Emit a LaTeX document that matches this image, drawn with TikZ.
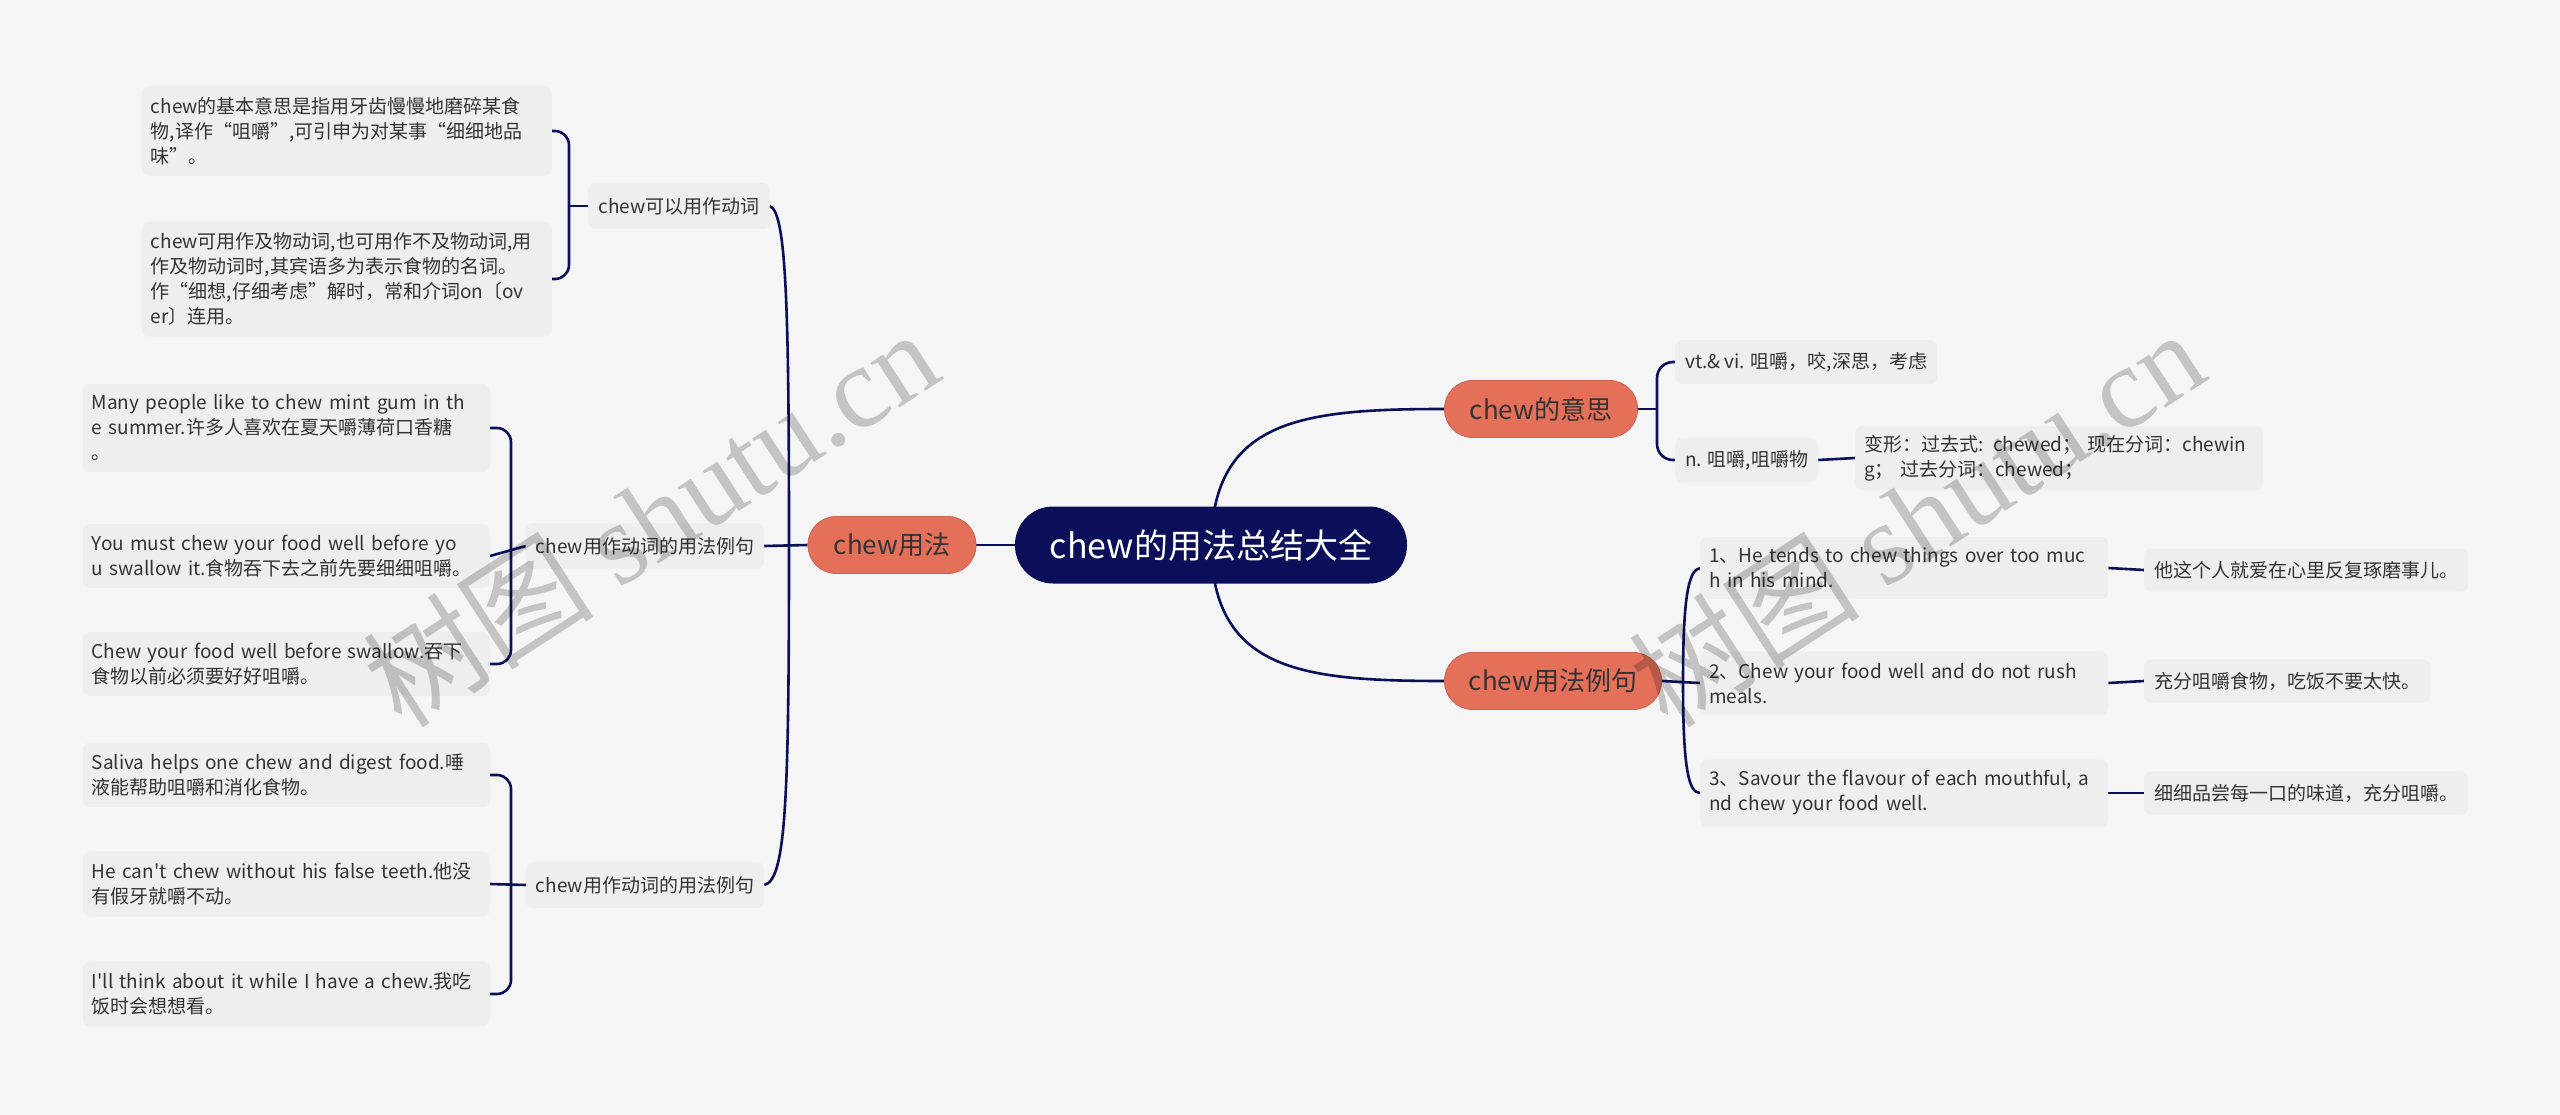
\documentclass[tikz,border=0pt]{standalone}
\usepackage{fontspec}
\newfontfamily\mainf{Noto Sans CJK SC}
\newfontfamily\wmserif{Liberation Serif}
\definecolor{bgc}{HTML}{F5F5F5}
\definecolor{navy}{HTML}{0B0F5A}
\definecolor{salmon}{HTML}{E5705A}
\definecolor{boxg}{HTML}{EEEEEE}
\definecolor{txt}{HTML}{333333}
\newcommand\Lx[1]{\mbox{#1}}
\pgfdeclarelayer{bglayer}
\pgfdeclarelayer{edges}
\pgfsetlayers{bglayer,edges,main}
\begin{document}
\begin{tikzpicture}[x=1pt,y=-1pt,
  conn/.style={draw=navy, line width=2.6pt},
  rootnode/.style={fill=navy, text=white, rounded corners=38pt, minimum width=392pt, minimum height=77pt, inner sep=0pt, font=\mainf\fontsize{34}{40}\selectfont},
  branch/.style={fill=salmon, draw=salmon!88!black, line width=0.8pt, text=black!80, rounded corners=28pt, minimum height=57pt, inner sep=0pt, font=\mainf\fontsize{26}{30}\selectfont},
  sub/.style={fill=boxg, rounded corners=7pt, text=txt, font=\mainf\fontsize{19}{25}\selectfont, align=left, inner xsep=9pt, inner ysep=11pt},
  single/.style={sub, minimum height=46pt, inner ysep=0pt, inner xsep=10pt},
  wm/.style={text=black, opacity=0.2, font=\mainf\fontsize{116}{120}\selectfont, inner sep=0pt}
]
\begin{pgfonlayer}{bglayer}
\fill[bgc] (0,0) rectangle (2560,1115);
\end{pgfonlayer}

% root and branches
\node[rootnode] (root) at (1211,545) {chew的用法总结大全};
\node[branch, minimum width=168pt] (usage) at (892,545) {chew用法};
\node[branch, minimum width=193pt] (mean) at (1541,409) {chew的意思};
\node[branch, minimum width=217pt] (ex) at (1553,681) {chew用法例句};

% left parents
\node[single] (P1) at (679,206) {chew可以用作动词};
\node[single] (P2) at (645,546) {chew用作动词的用法例句};
\node[single] (P3) at (645,885) {chew用作动词的用法例句};

% left children
\node[sub, text width=392pt, anchor=east] (A1) at (552,131) {\Lx{chew的基本意思是指用牙齿慢慢地磨碎某食}\\\Lx{物,译作“咀嚼”,可引申为对某事“细细地品}\\\Lx{味”。}};
\node[sub, text width=392pt, anchor=east] (A2) at (552,279) {\Lx{chew可用作及物动词,也可用作不及物动词,用}\\\Lx{作及物动词时,其宾语多为表示食物的名词。}\\\Lx{作“细想,仔细考虑”解时，常和介词on〔ov}\\\Lx{er〕连用。}};
\node[sub, text width=389pt, anchor=east] (B1) at (490,428) {\Lx{Many people like to chew mint gum in th}\\\Lx{e summer.许多人喜欢在夏天嚼薄荷口香糖}\\\Lx{。}};
\node[sub, text width=389pt, anchor=east] (B2) at (490,556) {\Lx{You must chew your food well before yo}\\\Lx{u swallow it.食物吞下去之前先要细细咀嚼。}};
\node[sub, text width=389pt, anchor=east] (B3) at (490,664) {\Lx{Chew your food well before swallow.吞下}\\\Lx{食物以前必须要好好咀嚼。}};
\node[sub, text width=389pt, anchor=east] (C1) at (490,775) {\Lx{Saliva helps one chew and digest food.唾}\\\Lx{液能帮助咀嚼和消化食物。}};
\node[sub, text width=389pt, anchor=east] (C2) at (490,884) {\Lx{He can't chew without his false teeth.他没}\\\Lx{有假牙就嚼不动。}};
\node[sub, text width=389pt, anchor=east] (C3) at (490,994) {\Lx{I'll think about it while I have a chew.我吃}\\\Lx{饭时会想想看。}};

% right: meaning
\node[single, anchor=west, minimum height=44pt] (M1) at (1675,362) {vt.\& vi. 咀嚼，咬,深思，考虑};
\node[single, anchor=west, minimum height=44pt] (M2) at (1675,460) {n. 咀嚼,咀嚼物};
\node[sub, text width=390pt, anchor=west, inner ysep=9pt] (M3) at (1855,458) {\Lx{变形：过去式: chewed； 现在分词：chewin}\\\Lx{g； 过去分词：chewed；}};

% right: examples
\node[sub, text width=390pt, anchor=west] (E1) at (1700,568) {\Lx{1、He tends to chew things over too muc}\\\Lx{h in his mind.}};
\node[sub, text width=390pt, anchor=west] (E2) at (1700,683) {\Lx{2、Chew your food well and do not rush}\\\Lx{meals.}};
\node[sub, text width=390pt, anchor=west] (E3) at (1700,793) {\Lx{3、Savour the flavour of each mouthful, a}\\\Lx{nd chew your food well.}};
\node[single, anchor=west, minimum height=43pt] (F1) at (2144,570) {他这个人就爱在心里反复琢磨事儿。};
\node[single, anchor=west, minimum height=43pt] (F2) at (2144,681) {充分咀嚼食物，吃饭不要太快。};
\node[single, anchor=west, minimum height=43pt] (F3) at (2144,793) {细细品尝每一口的味道，充分咀嚼。};

\begin{pgfonlayer}{edges}
% root to branches
\draw[conn] (root.west) -- (usage.east);
\draw[conn] (root.center) .. controls (1213,420) and (1300,409) .. (mean.west);
\draw[conn] (root.center) .. controls (1213,670) and (1300,681) .. (ex.west);
% usage to left parents
\coordinate (lj) at (789,545);
\draw[conn] (usage.west) -- (P2.east);
\draw[conn] (lj) .. controls (789,300) and (786,212) .. (P1.east);
\draw[conn] (lj) .. controls (789,800) and (786,880) .. (P3.east);
% P1 bracket
\draw[conn, rounded corners=14pt] (A1.east) -- ++(17,0) |- (A2.east);
\draw[conn] (P1.west) -- ++(-19,0);
% P2 bracket
\draw[conn, rounded corners=14pt] (B1.east) -- ++(21,0) |- (B3.east);
\draw[conn] (B2.east) -- (P2.west);
% P3 bracket
\draw[conn, rounded corners=14pt] (C1.east) -- ++(21,0) |- (C3.east);
\draw[conn] (C2.east) -- (P3.west);
% meaning bracket
\draw[conn, rounded corners=16pt] (M1.west) -- ++(-18,0) |- (M2.west);
\draw[conn] (mean.east) -- ++(19,0);
\draw[conn] (M2.east) -- (M3.west);
% example bracket
\coordinate (rj) at (1683,682);
\draw[conn] (ex.east) -- (E2.west);
\draw[conn] (rj) .. controls (1683,600) and (1688,570) .. (E1.west);
\draw[conn] (rj) .. controls (1683,765) and (1688,793) .. (E3.west);
\draw[conn] (E1.east) -- (F1.west);
\draw[conn] (E2.east) -- (F2.west);
\draw[conn] (E3.east) -- (F3.west);
\end{pgfonlayer}

% watermarks
\node[wm, rotate=33] (wm1) at (650,517) {树图 {\wmserif shutu.cn}};
\node[wm, rotate=33] (wm2) at (1916,517) {树图 {\wmserif shutu.cn}};
\end{tikzpicture}
\end{document}
